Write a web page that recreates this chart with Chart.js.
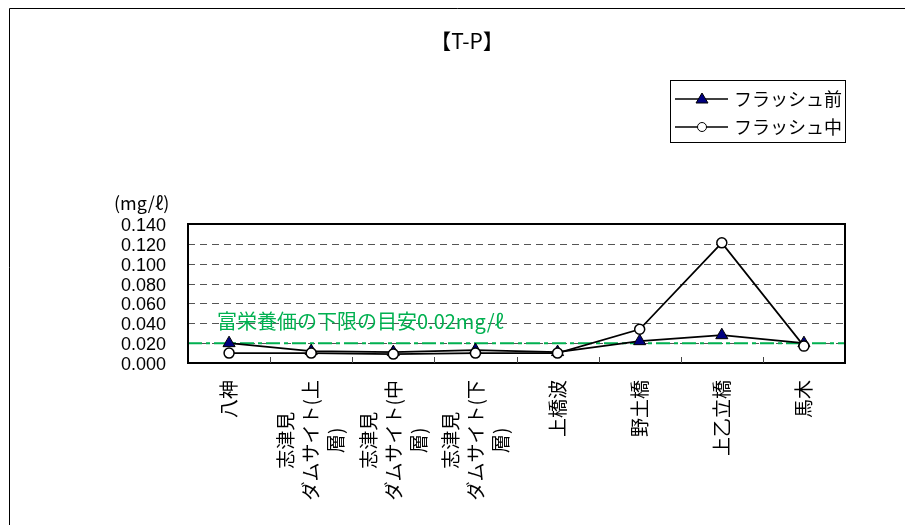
<!DOCTYPE html>
<html>
<head>
<meta charset="utf-8">
<script src="https://cdn.jsdelivr.net/npm/chart.js@4"></script>
<style>
  body { margin: 0; background: #fff; }
</style>
</head>
<body>
<canvas id="tpChart" width="905" height="525"></canvas>
<script>
// 【T-P】 flush comparison
const categories = [
    ['八神'],
    ['志津見', 'ダムサイト(上', '層)'],
    ['志津見', 'ダムサイト(中', '層)'],
    ['志津見', 'ダムサイト(下', '層)'],
    ['上橋波'],
    ['野土橋'],
    ['上乙立橋'],
    ['馬木']
];
const seriesNames = ['フラッシュ前', 'フラッシュ中'];
const flushBefore = [0.020, 0.012, 0.011, 0.013, 0.011, 0.022, 0.028, 0.020];
const flushDuring = [0.010, 0.010, 0.009, 0.010, 0.010, 0.034, 0.121, 0.017];
const yTicks = [0, 0.02, 0.04, 0.06, 0.08, 0.10, 0.12, 0.14];
const guideValue = 0.02;
const guideLabel = '富栄養価の下限の目安0.02mg/ℓ';

const numFont = "'Liberation Sans', 'Noto Sans CJK JP', sans-serif";
const jpFont = "'Noto Sans CJK JP', sans-serif";
const green = '#00b050';

const decorations = {
    id: 'decorations',
    beforeDatasetsDraw(chart) {
        const { ctx, chartArea: a, scales: { y } } = chart;
        ctx.save();
        // dashed grid lines
        ctx.strokeStyle = '#555';
        ctx.lineWidth = 1;
        ctx.setLineDash([7, 5]);
        yTicks.slice(1, -1).forEach(v => {
            const py = Math.round(y.getPixelForValue(v)) + 0.5;
            ctx.beginPath();
            ctx.moveTo(a.left, py);
            ctx.lineTo(a.right, py);
            ctx.stroke();
        });

        // guide line
        const gy = y.getPixelForValue(guideValue);
        ctx.strokeStyle = green;
        ctx.lineWidth = 2;
        ctx.setLineDash([14, 4, 4, 4]);
        ctx.beginPath();
        ctx.moveTo(a.left, gy);
        ctx.lineTo(a.right, gy);
        ctx.stroke();
        ctx.setLineDash([]);
        ctx.fillStyle = green;
        ctx.font = '20px ' + jpFont;
        ctx.textBaseline = 'middle';
        ctx.fillText(guideLabel, a.left + 29, y.getPixelForValue(0.042));
        ctx.restore();
    },
    afterDraw(chart) {
        const { ctx, chartArea: a, scales: { x } } = chart;
        ctx.save();
        // outer frame (cut off at right and bottom)
        ctx.strokeStyle = '#000';
        ctx.lineWidth = 1;
        ctx.beginPath();
        ctx.moveTo(9.5, 530);
        ctx.lineTo(9.5, 8.5);
        ctx.lineTo(910, 8.5);
        ctx.stroke();

        // plot border
        ctx.lineWidth = 2;
        ctx.strokeRect(a.left, a.top, a.right - a.left, a.bottom - a.top);

        // category tick marks inside the plot
        ctx.lineWidth = 1;
        ctx.strokeStyle = '#444';
        const half = (x.getPixelForValue(1) - x.getPixelForValue(0)) / 2;
        for (let i = 1; i < categories.length; i++) {
            const px = Math.round(x.getPixelForValue(i) - half) + 0.5;
            ctx.beginPath();
            ctx.moveTo(px, a.bottom);
            ctx.lineTo(px, a.bottom - 6);
            ctx.stroke();
        }

        // vertical category labels
        ctx.fillStyle = '#000';
        ctx.font = '19px ' + jpFont;
        ctx.textAlign = 'center';
        ctx.textBaseline = 'middle';
        const lh = 25;
        categories.forEach((lines, i) => {
            const maxW = Math.max(...lines.map(s => ctx.measureText(s).width));
            ctx.save();
            ctx.translate(x.getPixelForValue(i), a.bottom + 17);
            ctx.rotate(-Math.PI / 2);
            lines.forEach((s, j) => {
                ctx.fillText(s, -maxW / 2, (j - (lines.length - 1) / 2) * lh);
            });
            ctx.restore();
        });

        // title and unit
        ctx.font = '21px ' + jpFont;
        ctx.fillText('【T-P】', 467, 41);
        ctx.font = '18px ' + jpFont;
        ctx.textAlign = 'left';
        ctx.fillText('(mg/ℓ)', 114, 203);

        // legend box
        ctx.strokeStyle = '#000';
        ctx.lineWidth = 1;
        ctx.strokeRect(670.5, 80.5, 175, 62);
        const rows = [99, 127];
        rows.forEach((ry, k) => {
            ctx.lineWidth = 1.5;
            ctx.beginPath();
            ctx.moveTo(675, ry);
            ctx.lineTo(728, ry);
            ctx.stroke();
            ctx.beginPath();
            if (k === 0) {
                ctx.fillStyle = '#000080';
                ctx.moveTo(702, ry - 6);
                ctx.lineTo(708, ry + 4);
                ctx.lineTo(696, ry + 4);
                ctx.closePath();
            } else {
                ctx.fillStyle = '#fff';
                ctx.arc(702, ry, 4.5, 0, Math.PI * 2);
            }
            ctx.fill();
            ctx.lineWidth = 1;
            ctx.stroke();
            ctx.fillStyle = '#000';
            ctx.font = '18px ' + jpFont;
            ctx.fillText(seriesNames[k], 734, ry);
        });
        ctx.restore();
    }
};

const ctx = document.getElementById('tpChart').getContext('2d');
const tpChart = new Chart(ctx, {
    type: 'line',
    data: {
        labels: categories.map(l => l.join('')),
        datasets: [{
            label: seriesNames[0],
            data: flushBefore,
            borderColor: '#000',
            borderWidth: 1.7,
            pointStyle: 'triangle',
            pointRadius: 7,
            pointBackgroundColor: '#000080',
            pointBorderColor: '#000',
            pointBorderWidth: 1,
            order: 1
        }, {
            label: seriesNames[1],
            data: flushDuring,
            borderColor: '#000',
            borderWidth: 1.7,
            pointStyle: 'circle',
            pointRadius: 5,
            pointBackgroundColor: '#fff',
            pointBorderColor: '#000',
            pointBorderWidth: 1.5,
            order: 0
        }]
    },
    options: {
        responsive: false,
        animation: false,
        devicePixelRatio: 1,
        layout: { padding: { left: 0, right: 60, top: 224, bottom: 0 } },
        plugins: {
            legend: { display: false },
            title: { display: false },
            tooltip: { enabled: false }
        },
        scales: {
            x: {
                offset: true,
                ticks: { display: false },
                grid: { display: false },
                border: { display: false },
                afterFit(scale) { scale.height = 162; }
            },
            y: {
                min: 0,
                max: 0.14,
                afterBuildTicks(scale) { scale.ticks = yTicks.map(v => ({ value: v })); },
                ticks: {
                    autoSkip: false,
                    padding: 22,
                    labelOffset: 2,
                    color: '#000',
                    font: { size: 18, family: numFont },
                    callback: v => v.toFixed(3)
                },
                grid: { display: false, drawTicks: false },
                border: { display: false },
                afterFit(scale) { scale.width = 188; }
            }
        }
    },
    plugins: [decorations]
});
</script>
</body>
</html>
